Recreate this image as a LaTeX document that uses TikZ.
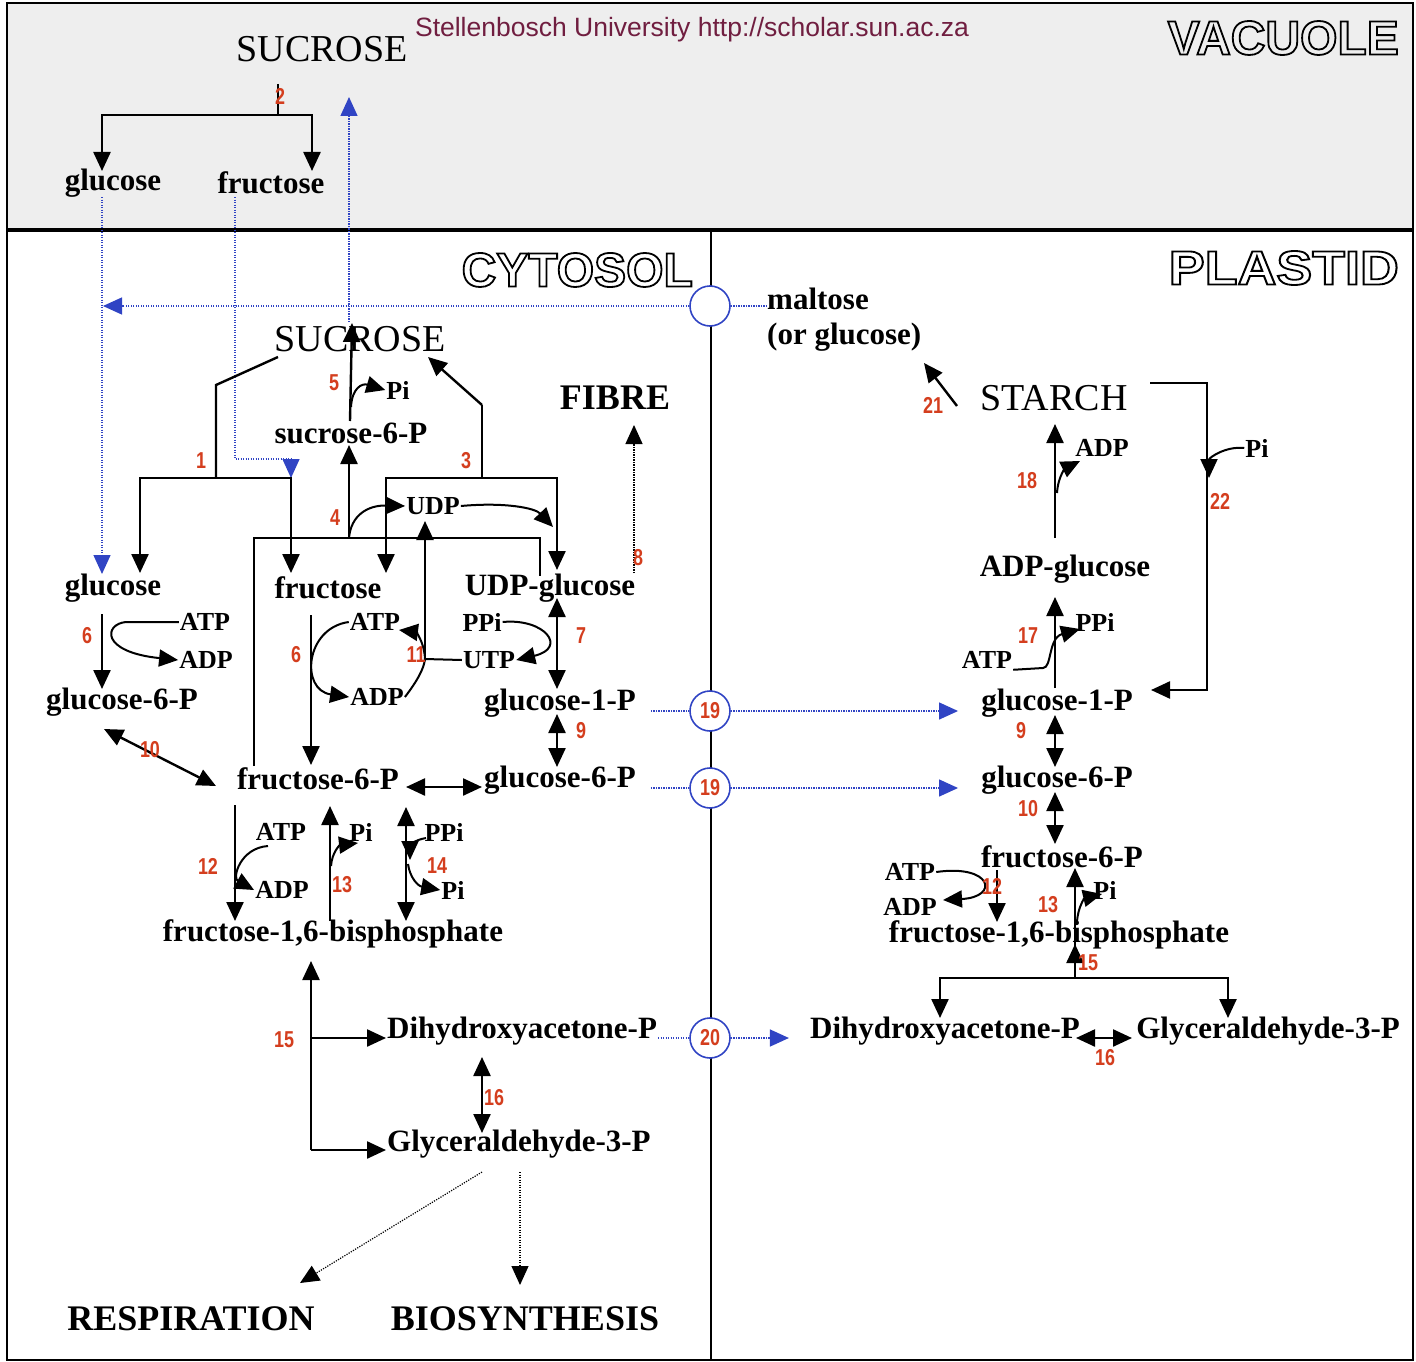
\documentclass[tikz,border=0pt]{standalone}
\usepackage{fontspec}
\setmainfont{Liberation Serif}
\newfontfamily\wmfont{Liberation Sans}
\newfontfamily\olfont{Liberation Sans}
\newfontfamily\numfont{Liberation Sans Bold}[FakeStretch=0.78]
\usetikzlibrary{arrows.meta,calc}
\definecolor{rxn}{RGB}{212,62,30}
\definecolor{tblue}{RGB}{48,68,196}
\definecolor{wmc}{RGB}{112,30,64}
\definecolor{vacbg}{RGB}{238,238,238}
\newcommand\outl[1]{\special{pdf:literal direct 1 Tr 1.8 w}#1\special{pdf:literal direct 0 Tr}}
\begin{document}
\begin{tikzpicture}[x=1pt,y=-1pt,
  >={Triangle[length=19pt,width=17pt]},
  lab/.style={font=\bfseries\fontsize{31}{31}\selectfont, inner sep=1pt},
  sm/.style={font=\bfseries\fontsize{26}{26}\selectfont, inner sep=1pt},
  big/.style={font=\bfseries\fontsize{36}{36}\selectfont, inner sep=1pt},
  bigr/.style={font=\fontsize{38}{38}\selectfont, inner sep=1pt},
  ttl/.style={font=\olfont\bfseries\fontsize{48}{48}\selectfont, inner sep=0pt, anchor=east},
  num/.style={font=\numfont\fontsize{23}{23}\selectfont, text=rxn, inner sep=0pt},
  trans/.style={circle, draw=tblue, line width=1.6pt, fill=white, minimum size=40pt, inner sep=0pt, font=\numfont\fontsize{23}{23}\selectfont, text=rxn},
  ln/.style={line width=2.4pt},
  ar/.style={line width=2.4pt, ->},
  da/.style={line width=2.4pt, <->},
  ca/.style={line width=2pt, ->},
  cl/.style={line width=2pt},
  bd/.style={tblue, line width=1.4pt, dash pattern=on 1.2pt off 1.3pt},
  kd/.style={black, line width=1.2pt, dash pattern=on 1.2pt off 1.3pt}
]
\fill[white] (0,0) rectangle (1416,1362);
\useasboundingbox (0,0) rectangle (1416,1362);
% frames
\draw[line width=2pt, fill=vacbg] (7,3) rectangle (1413,229);
\draw[line width=2pt] (7,231) rectangle (1413,1360);
\draw[line width=2pt] (711,231) -- (711,1360);

% titles
\node[font=\wmfont\fontsize{26.5}{26.5}\selectfont, text=wmc] (wm) at (692,30) {Stellenbosch University http://scholar.sun.ac.za};
\node[ttl] (tvac) at (1399,38) {\outl{VACUOLE}};
\node[ttl] (tcyt) at (693,270) {\outl{CYTOSOL}};
\node[ttl] (tpla) at (1399,268) {\scalebox{1.12}[1]{\outl{PLASTID}}};

% vacuole nodes
\node[bigr] (vsuc) at (322,49) {SUCROSE};
\node[lab] (vglc) at (113,183) {glucose};
\node[lab] (vfru) at (271,183) {fructose};

% cytosol nodes
\node[bigr] (csuc) at (360,339) {SUCROSE};
\node[big] (fibre) at (615,398) {FIBRE};
\node[lab] (s6p) at (351,433) {sucrose-6-P};
\node[sm] (pi5) at (398,390) {Pi};
\node[sm] (udp) at (433,506) {UDP};
\node[lab] (cglc) at (113,588) {glucose};
\node[lab] (cfru) at (328,588) {fructose};
\node[lab] (udpg) at (550,588) {UDP-glucose};
\node[sm] (atp6a) at (205,622) {ATP};
\node[sm] (adp6a) at (206,660) {ADP};
\node[lab] (cg6p) at (122,702) {glucose-6-P};
\node[sm] (atp6b) at (375,622) {ATP};
\node[sm] (adp6b) at (377,697) {ADP};
\node[sm] (ppi7) at (482,622) {PPi};
\node[sm] (utp) at (489,660) {UTP};
\node[lab] (cg1p) at (560,703) {glucose-1-P};
\node[lab] (cf6p) at (318,779) {fructose-6-P};
\node[lab] (cg6pb) at (560,780) {glucose-6-P};
\node[sm] (atp12) at (281,832) {ATP};
\node[sm] (adp12) at (282,890) {ADP};
\node[sm] (pi13) at (361,832) {Pi};
\node[sm] (ppi14) at (444,832) {PPi};
\node[sm] (pi14) at (453,890) {Pi};
\node[lab] (cfbp) at (333,934) {fructose-1,6-bisphosphate};
\node[lab, anchor=west] (cdhap) at (386,1031) {Dihydroxyacetone-P};
\node[lab, anchor=west] (cgap) at (386,1144) {Glyceraldehyde-3-P};
\node[big] (resp) at (191,1319) {RESPIRATION};
\node[big] (bios) at (525,1319) {BIOSYNTHESIS};

% plastid nodes
\node[lab, anchor=west] (malt) at (766,299) {maltose};
\node[lab, anchor=west] (malt2) at (766,337) {(or glucose)};
\node[bigr] (starch) at (1054,398) {STARCH};
\node[sm] (adp18) at (1102,448) {ADP};
\node[sm] (pi22) at (1257,448) {Pi};
\node[lab] (adpg) at (1065,569) {ADP-glucose};
\node[sm] (ppi17) at (1095,622) {PPi};
\node[sm] (atp17) at (987,660) {ATP};
\node[lab] (pg1p) at (1057,703) {glucose-1-P};
\node[lab] (pg6p) at (1057,780) {glucose-6-P};
\node[lab] (pf6p) at (1062,857) {fructose-6-P};
\node[sm] (atp12p) at (910,872) {ATP};
\node[sm] (adp12p) at (910,907) {ADP};
\node[sm] (pi13p) at (1105,890) {Pi};
\node[lab] (pfbp) at (1059,935) {fructose-1,6-bisphosphate};
\node[lab] (pdhap) at (945,1031) {Dihydroxyacetone-P};
\node[lab] (pgap) at (1268,1031) {Glyceraldehyde-3-P};

% transporters
\node[trans] (t0) at (710,306) {};
\node[trans] (t19a) at (710,711) {19};
\node[trans] (t19b) at (710,788) {19};
\node[trans] (t20) at (710,1038) {20};

% ---------- vacuole reaction 2
\coordinate (v2a) at (278,84);
\coordinate (v2) at (278,115);
\coordinate (v2g) at (102,171);
\coordinate (v2f) at (312,171);
\draw[ln] (v2a) -- (v2);
\draw[ar] (v2) -| (v2g);
\draw[ar] (v2) -| (v2f);

% ---------- blue transport lines
\coordinate (bgA) at (102,197);
\coordinate (bgB) at (102,574);
\draw[bd,->] (bgA) -- (bgB);
\coordinate (bfA) at (235,197);
\coordinate (bfB) at (291,459);
\coordinate (bfC) at (291,478);
\draw[bd] (bfA) |- (bfB);
\draw[bd,->] (bfB) -- (bfC);
\coordinate (bsA) at (349,322);
\coordinate (bsB) at (349,97);
\draw[bd,->] (bsA) -- (bsB);
\coordinate (bmE) at (103,306);
\draw[bd,->] (t0.west) -- (bmE);
\draw[bd] (t0.east) -- (malt.west |- t0.east);
\draw[bd, shorten <=14pt] (cg1p.east |- t19a.west) -- (t19a.west);
\draw[bd,->, shorten >=22pt] (t19a.east) -- (pg1p.west |- t19a.east);
\draw[bd, shorten <=14pt] (cg6pb.east |- t19b.west) -- (t19b.west);
\draw[bd,->, shorten >=22pt] (t19b.east) -- (pg6p.west |- t19b.east);
\draw[bd] (cdhap.east |- t20.west) -- (t20.west);
\draw[bd,->, shorten >=20pt] (t20.east) -- (pdhap.west |- t20.east);

% ---------- cytosol reactions
% R1 invertase
\coordinate (r1a) at (278,357);
\coordinate (r1b) at (216,385);
\coordinate (r1c) at (216,478);
\coordinate (r1g) at (140,573);
\coordinate (r1f) at (291,573);
\draw[ln] (r1a) -- (r1b) -- (r1c);
\draw[ar] (r1c) -| (r1g);
\draw[ar] (r1c) -| (r1f);
% R3 sucrose synthase
\coordinate (r3s) at (428,357);
\coordinate (r3a) at (482,405);
\coordinate (r3b) at (482,478);
\coordinate (r3f) at (386,573);
\coordinate (r3u) at (557,570);
\draw[ln] (r3b) -- (r3a);
\draw[ar] (r3a) -- (r3s);
\draw[ar] (r3b) -| (r3f);
\draw[ar] (r3b) -| (r3u);
% R4 SPS
\coordinate (r4f) at (254,766);
\coordinate (r4r) at (540,538);
\coordinate (r4u) at (540,576);
\coordinate (r4) at (349,538);
\coordinate (r4t) at (349,445);
\coordinate (r4e) at (553,527);
\draw[ln] (r4f) |- (r4r) -- (r4u);
\draw[ar] (r4) -- (r4t);
\draw[ca] (r4) .. controls (351,515) and (368,505) .. (udp.west);
\draw[ca] (udp.east) .. controls (505,502) and (535,508) .. (r4e);
% R5 SPP
\coordinate (r5b) at (350,421);
\coordinate (r5t) at (352,323);
\coordinate (r5m) at (351,407);
\draw[ar] (r5b) -- (r5t);
\draw[ca] (r5m) .. controls (352,388) and (362,383) .. (pi5.west);
% R6 hexokinase
\coordinate (r6t) at (102,614);
\coordinate (r6b) at (102,689);
\coordinate (r6k) at (126,622);
\draw[ar] (r6t) -- (r6b);
\draw[ca] (atp6a.west) -- (r6k) .. controls (104,624) and (100,652) .. (adp6a.west);
% R6 fructokinase
\coordinate (r6ft) at (311,615);
\coordinate (r6fb) at (311,765);
\draw[ar] (r6ft) -- (r6fb);
\draw[ca] (atp6b.west) .. controls (305,628) and (300,690) .. (adp6b.west);
% R11 NDP kinase
\coordinate (r11) at (425,659);
\coordinate (r11t) at (425,521);
\coordinate (r11a) at (399,630);
\draw[ar] (r11) -- (r11t);
\draw[cl] (r11) -- (utp.west);
\draw[cl] (adp6b.east) .. controls (418,680) and (424,668) .. (r11);
\draw[ca] (r11) .. controls (424,640) and (415,632) .. (r11a);
% R7 UGPase
\coordinate (r7t) at (557,598);
\coordinate (r7b) at (557,689);
\draw[da] (r7t) -- (r7b);
\draw[ca] (ppi7.east) .. controls (545,618) and (568,648) .. (utp.east);
% R8 fibre
\coordinate (r8b) at (634,573);
\coordinate (r8t) at (634,425);
\draw[kd,->] (r8b) -- (r8t);
% R9, R10
\coordinate (r9t) at (557,714);
\coordinate (r9b) at (557,767);
\draw[da] (r9t) -- (r9b);
\coordinate (r10a) at (104,729);
\coordinate (r10b) at (216,786);
\draw[da] (r10a) -- (r10b);
\coordinate (fgA) at (406,787);
\coordinate (fgB) at (482,787);
\draw[da] (fgA) -- (fgB);
% R12 PFK
\coordinate (r12t) at (235,805);
\coordinate (r12b) at (235,921);
\coordinate (r12k) at (268,846);
\draw[ar] (r12t) -- (r12b);
\draw[ca] (r12k) .. controls (240,848) and (232,878) .. (adp12.west);
% R13 FBPase
\coordinate (r13b) at (330,921);
\coordinate (r13t) at (330,806);
\coordinate (r13m) at (331,866);
\coordinate (r13p) at (358,843);
\draw[ar] (r13b) -- (r13t);
\draw[ca] (r13m) .. controls (332,852) and (340,845) .. (r13p);
% R14 PFP
\coordinate (r14t) at (406,807);
\coordinate (r14b) at (406,921);
\coordinate (r14a) at (426,838);
\coordinate (r14m) at (410,860);
\coordinate (r14n) at (408,864);
\draw[da] (r14t) -- (r14b);
\draw[ca] (r14a) .. controls (414,840) and (410,846) .. (r14m);
\draw[ca] (r14n) .. controls (410,878) and (418,886) .. (pi14.west);
% R15 aldolase
\coordinate (r15b) at (311,1150);
\coordinate (r15t) at (311,961);
\coordinate (r15a) at (311,1038);
\draw[ar] (r15b) -- (r15t);
\draw[ar] (r15a) -- (cdhap.west |- r15a);
\draw[ar] (r15b) -- (cgap.west |- r15b);
% R16 TPI
\coordinate (r16t) at (482,1057);
\coordinate (r16b) at (482,1133);
\draw[da] (r16t) -- (r16b);
% fates
\coordinate (dA) at (482,1172);
\coordinate (dB) at (300,1283);
\coordinate (dC) at (520,1172);
\coordinate (dD) at (520,1285);
\draw[kd,->] (dA) -- (dB);
\draw[kd,->] (dC) -- (dD);

% ---------- plastid reactions
\coordinate (r21a) at (957,406);
\coordinate (r21b) at (924,363);
\draw[ar] (r21a) -- (r21b);
\coordinate (r22a) at (1150,383);
\coordinate (r22c) at (1207,690);
\coordinate (r22d) at (1151,690);
\coordinate (r22p) at (1209,478);
\draw[ar] (r22a) -| (r22c) -- (r22d);
\draw[ca] (pi22.west) .. controls (1225,446) and (1209,458) .. (r22p);
\coordinate (r18b) at (1055,538);
\coordinate (r18t) at (1055,424);
\coordinate (r18m) at (1057,493);
\coordinate (r18p) at (1080,461);
\draw[ar] (r18b) -- (r18t);
\draw[ca] (r18m) .. controls (1058,476) and (1066,468) .. (r18p);
\coordinate (r17b) at (1055,688);
\coordinate (r17t) at (1055,597);
\coordinate (r17k) at (1043,668);
\coordinate (r17p) at (1080,629);
\draw[ar] (r17b) -- (r17t);
\draw[ca] (atp17.south east) -- (r17k) .. controls (1052,668) and (1048,638) .. (r17p);
\coordinate (p9t) at (1055,715);
\coordinate (p9b) at (1055,767);
\draw[da] (p9t) -- (p9b);
\coordinate (p10t) at (1055,792);
\coordinate (p10b) at (1055,844);
\draw[da] (p10t) -- (p10b);
\coordinate (p12t) at (997,870);
\coordinate (p12b) at (997,922);
\coordinate (p12e) at (943,900);
\draw[ar] (p12t) -- (p12b);
\draw[ca] (atp12p.east) .. controls (992,864) and (1000,897) .. (p12e);
\coordinate (p13b) at (1075,965);
\coordinate (p13t) at (1075,868);
\coordinate (p13m) at (1077,922);
\coordinate (p13p) at (1102,894);
\draw[ar] (p13b) -- (p13t);
\draw[ca] (p13m) .. controls (1078,906) and (1085,898) .. (p13p);
\coordinate (p15) at (1075,978);
\coordinate (p15t) at (1075,944);
\coordinate (p15l) at (940,1018);
\coordinate (p15r) at (1228,1018);
\draw[ar] (p15) -- (p15t);
\draw[ar] (p15) -| (p15l);
\draw[ar] (p15) -| (p15r);
\coordinate (p16a) at (1076,1038);
\coordinate (p16b) at (1132,1038);
\draw[da] (p16a) -- (p16b);

% ---------- reaction numbers
\node[num] (n1) at (201,461) {1};
\node[num] (n2) at (280,96) {2};
\node[num] (n3) at (466,461) {3};
\node[num] (n4) at (335,518) {4};
\node[num] (n5) at (334,383) {5};
\node[num] (n6a) at (87,636) {6};
\node[num] (n6b) at (296,655) {6};
\node[num] (n7) at (581,636) {7};
\node[num] (n8) at (638,558) {8};
\node[num] (n9) at (581,731) {9};
\node[num] (n10) at (150,750) {10};
\node[num] (n11) at (416,655) {11};
\node[num] (n12) at (208,866) {12};
\node[num] (n13) at (342,885) {13};
\node[num] (n14) at (437,866) {14};
\node[num] (n15) at (284,1040) {15};
\node[num] (n16) at (494,1098) {16};
\node[num] (n21) at (933,405) {21};
\node[num] (n22) at (1220,501) {22};
\node[num] (n18) at (1027,481) {18};
\node[num] (n17) at (1028,636) {17};
\node[num] (n9p) at (1021,731) {9};
\node[num] (n10p) at (1028,809) {10};
\node[num] (n12p) at (992,886) {12};
\node[num] (n13p) at (1048,905) {13};
\node[num] (n15p) at (1088,963) {15};
\node[num] (n16p) at (1105,1058) {16};
\end{tikzpicture}
\end{document}
